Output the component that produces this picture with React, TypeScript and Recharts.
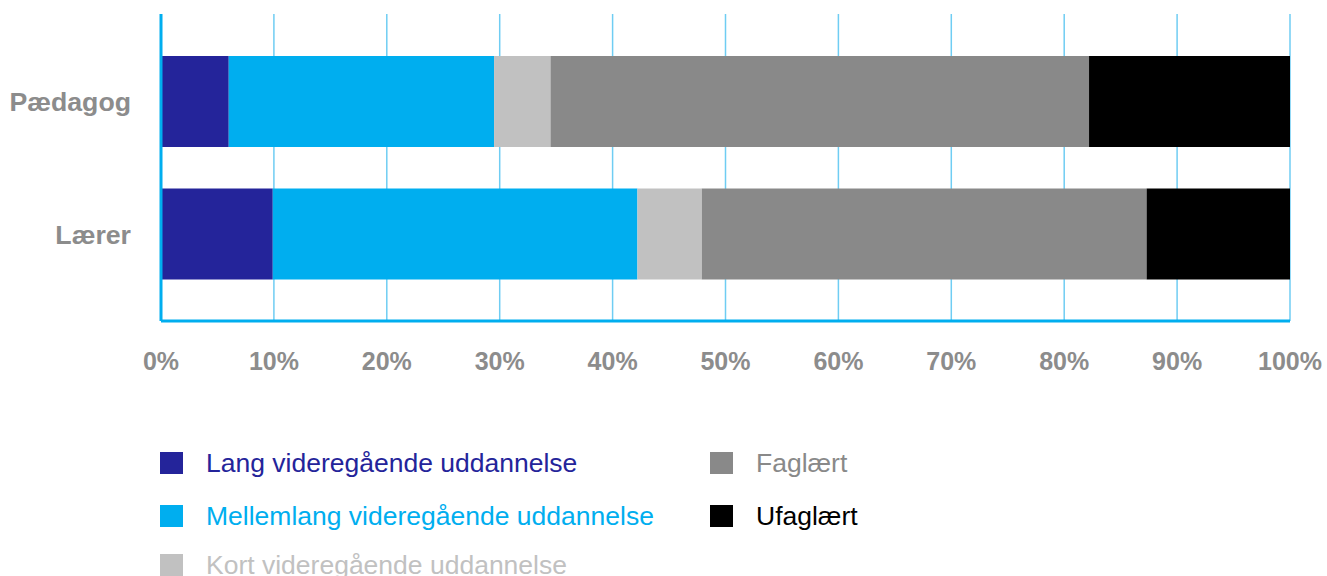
import { BarChart, Bar, XAxis, YAxis, CartesianGrid } from 'recharts'

const categories = ['Pædagog', 'Lærer']
const lang = [6.0, 9.9]
const mellemlang = [23.5, 32.3]
const kort = [5.0, 5.7]
const faglaert = [47.7, 39.4]
const ufaglaert = [17.8, 12.7]
const xTicks = [0, 10, 20, 30, 40, 50, 60, 70, 80, 90, 100]

const series = [
  { key: 'lang', name: 'Lang videregående uddannelse', color: '#24249a', values: lang },
  { key: 'mellemlang', name: 'Mellemlang videregående uddannelse', color: '#00aeef', values: mellemlang },
  { key: 'kort', name: 'Kort videregående uddannelse', color: '#c1c1c1', values: kort },
  { key: 'faglaert', name: 'Faglært', color: '#898989', values: faglaert },
  { key: 'ufaglaert', name: 'Ufaglært', color: '#000000', values: ufaglaert },
]

const data = categories.map((name, i) => {
  const row: any = { name }
  series.forEach((s) => (row[s.key] = s.values[i]))
  return row
})

const FONT = '"Liberation Sans", Arial, Helvetica, sans-serif'
const AXIS = '#00aeef'
const GRID = '#6fcdf3'
const LABEL = '#8c8c8c'

const XTick = ({ x, y, payload }: any) => (
  <text x={x} y={y + 49} textAnchor="middle" fontFamily={FONT} fontWeight="bold" fontSize={25} fill={LABEL}>
    {payload.value}%
  </text>
)

const YTick = ({ y, payload }: any) => (
  <text x={131} y={y + 10} textAnchor="end" fontFamily={FONT} fontWeight="bold" fontSize={26.7} fill={LABEL}>
    {payload.value}
  </text>
)

// legend is laid out in two columns like the original
const legendPos = [
  { left: 160, top: 452 },
  { left: 160, top: 505 },
  { left: 160, top: 554 },
  { left: 710, top: 452 },
  { left: 710, top: 505 },
]

export default function App() {
  return (
    <div style={{ position: 'absolute', left: 0, top: 0, width: 1327, height: 576, overflow: 'hidden', background: '#fff' }}>
      <BarChart
        width={1327}
        height={576}
        data={data}
        layout="vertical"
        margin={{ top: 14, right: 37, left: 0, bottom: 215 }}
        barSize={91}
      >
        <CartesianGrid horizontal={false} stroke={GRID} strokeWidth={1.5} />
        <XAxis
          type="number"
          domain={[0, 100]}
          ticks={xTicks}
          interval={0}
          height={40}
          tickSize={0}
          tickMargin={0}
          tick={<XTick />}
          axisLine={{ stroke: AXIS, strokeWidth: 3 }}
          tickLine={false}
        />
        <YAxis
          type="category"
          dataKey="name"
          width={161}
          padding={{ top: 21, bottom: 21 }}
          tickSize={0}
          tick={<YTick />}
          axisLine={{ stroke: AXIS, strokeWidth: 3 }}
          tickLine={false}
        />
        {series.map((s) => (
          <Bar key={s.key} dataKey={s.key} name={s.name} stackId="a" fill={s.color} isAnimationActive={false} />
        ))}
      </BarChart>
      {series.map((s, i) => (
        <div
          key={s.key}
          style={{
            position: 'absolute',
            left: legendPos[i].left,
            top: legendPos[i].top,
            display: 'flex',
            alignItems: 'center',
            fontFamily: FONT,
            fontSize: 26.5,
            color: s.color,
            whiteSpace: 'nowrap',
          }}
        >
          <span style={{ display: 'inline-block', width: 23, height: 22, background: s.color, marginRight: 23 }} />
          <span style={{ lineHeight: '22px' }}>{s.name}</span>
        </div>
      ))}
    </div>
  )
}
